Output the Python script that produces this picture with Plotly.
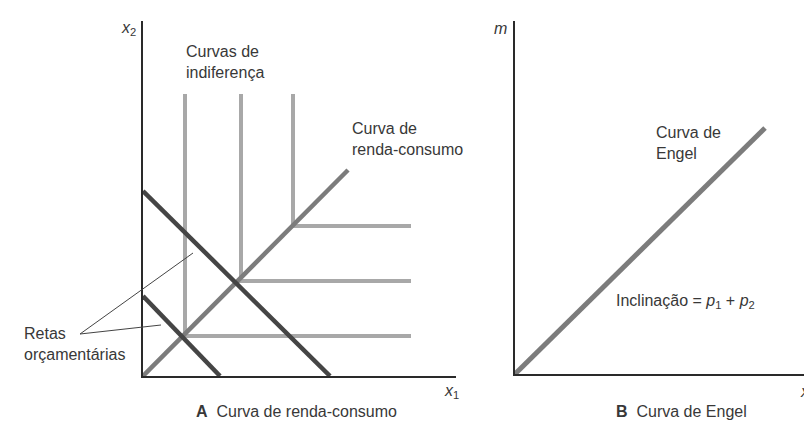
import plotly.graph_objects as go

# PANEL A data (units: 1 = 10 px of the original drawing)
renda_consumo_x = [0, 20.5]
renda_consumo_y = [0, 20.6]

# indifference curves (perfect complements: L-shapes)
indif_corner_x = [4.2, 9.8, 15.0]
indif_corner_y = [4.0, 9.5, 15.0]
indif_top = 28.2
indif_right = 26.8

# budget lines: intercepts
orc_x2_int = [8.0, 18.5]
orc_x1_int = [7.7, 18.7]

range_a_x = [0, 31.3]
range_a_y = [0, 35.5]

# PANEL B data
engel_x = [0, 25.0]
engel_y = [0, 24.6]
range_b_x = [0, 30.3]
range_b_y = [0, 35.3]

# leader lines for "Retas orcamentarias" (page pixels: start, end)
leader_start = (72, 326)
leader_ends = [(185, 245), (153, 317)]

W, H = 812, 422
FONT = "Liberation Sans, Arial"
TXT = "#383838"

fig = go.Figure()

# indifference curves
for cx, cy in zip(indif_corner_x, indif_corner_y):
    fig.add_trace(go.Scatter(x=[cx, cx, indif_right], y=[indif_top, cy, cy], mode="lines",
                             line=dict(color="#a8a8a8", width=4), xaxis="x", yaxis="y"))

# income-consumption curve
fig.add_trace(go.Scatter(x=renda_consumo_x, y=renda_consumo_y, mode="lines",
                         line=dict(color="#7c7c7c", width=4.5), xaxis="x", yaxis="y"))

# budget lines
for a, b in zip(orc_x1_int, orc_x2_int):
    fig.add_trace(go.Scatter(x=[0, a], y=[b, 0], mode="lines",
                             line=dict(color="#454545", width=4.5), xaxis="x", yaxis="y"))

# Engel curve
fig.add_trace(go.Scatter(x=engel_x, y=engel_y, mode="lines",
                         line=dict(color="#7c7c7c", width=5), xaxis="x2", yaxis="y2"))

ax_style = dict(showline=True, linecolor="#2a2a2a", linewidth=2, showgrid=False,
                zeroline=False, showticklabels=False, ticks="", fixedrange=True)

fig.update_layout(
    width=W, height=H,
    margin=dict(l=0, r=0, t=0, b=0),
    paper_bgcolor="white", plot_bgcolor="white",
    showlegend=False,
    font=dict(family=FONT, size=16, color=TXT),
    xaxis=dict(domain=[135 / W, 448 / W], range=range_a_x, anchor="y", **ax_style),
    yaxis=dict(domain=[(H - 368) / H, (H - 13) / H], range=range_a_y, anchor="x", **ax_style),
    xaxis2=dict(domain=[507 / W, 810 / W], range=range_b_x, anchor="y2", **ax_style),
    yaxis2=dict(domain=[(H - 366) / H, (H - 13) / H], range=range_b_y, anchor="x2", **ax_style),
)


def label(text, x, y, xanchor="center", size=16):
    fig.add_annotation(text=text, x=x / W, y=1 - y / H, xref="paper", yref="paper",
                       xanchor=xanchor, yanchor="middle", align="left", showarrow=False,
                       font=dict(size=size))


label("<i>x</i><sub>2</sub>", 120, 20)
label("Curvas de<br>indiferença", 176, 54, xanchor="left")
label("Curva de<br>renda-consumo", 342, 131, xanchor="left")
label("Retas<br>orçamentárias", 14, 336, xanchor="left")
label("<i>x</i><sub>1</sub>", 443, 383)
label("<b>A</b>  Curva de renda-consumo", 288, 403)

label("<i>m</i>", 492, 20)
label("Curva de<br>Engel", 646, 135, xanchor="left")
label("Inclinação = <i>p</i><sub>1</sub> + <i>p</i><sub>2</sub>", 606, 293, xanchor="left")
label("<i>x</i>", 804, 383, xanchor="right")
label("<b>B</b>  Curva de Engel", 673, 403)

for ex, ey in leader_ends:
    fig.add_shape(type="line", xref="paper", yref="paper",
                  x0=leader_start[0] / W, y0=1 - leader_start[1] / H,
                  x1=ex / W, y1=1 - ey / H,
                  line=dict(color="#444444", width=1))

fig.write_html("out.html")
